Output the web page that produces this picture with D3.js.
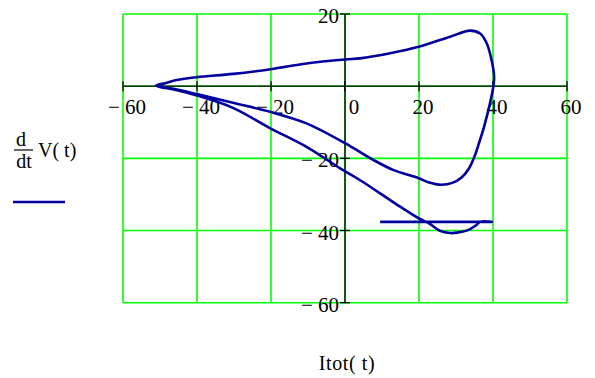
<!DOCTYPE html>
<html>
<head>
<meta charset="utf-8">
<script src="https://cdn.jsdelivr.net/npm/d3@7"></script>
<style>
  body { margin: 0; background: #fff; }
  svg { display: block; }
</style>
</head>
<body>
<div id="chart"></div>
<script>
// Ticks on both axes
const xTicks = [-60, -40, -20, 0, 20, 40, 60];
const yTicks = [-60, -40, -20, 0, 20];

// Itot(t) and d/dt V(t) (transient first, then one loop)
const itot = [9.5, 39.7, 36.5, 35.6, 33.8, 31.9, 28.4, 25.5, 23, 19.9, 14.9, 9.5, 4, -1.4,
  -10.4, -20.3, -30.3, -40, -46, -50, -51, -48.6, -45.5, -40, -30.2, -20.1, -10.4, 0, 4,
  12.2, 19.9, 28.4, 33.8, 36.5, 38.3, 39.6, 40.3, 40.1, 39.2, 37.6, 36.3, 35, 33.5, 31.5,
  29, 26, 22.5, 19.9, 13, 7.6, 2.2, 0, -10.4, -20.3, -30.3, -40, -46, -50, -51];
const dVdt = [-37.6, -37.6, -37.6, -38.4, -39.6, -40.3, -40.7, -40, -38.2, -36.6, -33.4, -29.7, -26, -22.7,
  -16.8, -11.6, -6, -2.6, -1, -0.2, 0.2, 0.8, 1.7, 2.5, 3.4, 4.7, 6.3, 7.4, 7.7,
  9.1, 10.9, 13.7, 15.4, 14.6, 11.9, 7.3, 2.6, 0, -4.7, -11.2, -15.5, -19.5, -22.8, -25.3,
  -26.8, -27.3, -26.6, -25.5, -23.2, -20.4, -17.1, -15.8, -10.3, -7.1, -4.6, -2.2, -0.8, -0.1, 0.1];

const width = 595, height = 378;
const numFont = "'Liberation Serif', 'Times New Roman', serif";

const svg = d3.select("#chart")
    .append("svg")
    .attr("width", width)
    .attr("height", height);

const x = d3.scaleLinear().domain([-60, 60]).range([123, 567]);
const y = d3.scaleLinear().domain([-60, 20]).range([302.7, 14]);

// green grid
svg.append("g").selectAll("line")
    .data(xTicks)
    .enter().append("line")
    .attr("x1", d => x(d)).attr("x2", d => x(d))
    .attr("y1", y(20)).attr("y2", y(-60))
    .attr("stroke", "#00ff00").attr("stroke-width", 1.6);

svg.append("g").selectAll("line")
    .data(yTicks)
    .enter().append("line")
    .attr("x1", x(-60)).attr("x2", x(60))
    .attr("y1", d => y(d)).attr("y2", d => y(d))
    .attr("stroke", "#00ff00").attr("stroke-width", 1.6);

// black axes through the origin
const axes = svg.append("g").attr("stroke", "#000").attr("stroke-width", 1.3);
axes.append("line")
    .attr("x1", x(-60)).attr("x2", x(60))
    .attr("y1", y(0)).attr("y2", y(0));
axes.append("line")
    .attr("x1", x(0)).attr("x2", x(0))
    .attr("y1", y(20)).attr("y2", y(-60));

axes.selectAll(".xt")
    .data(xTicks)
    .enter().append("line")
    .attr("x1", d => x(d)).attr("x2", d => x(d))
    .attr("y1", y(0) - 5).attr("y2", y(0) + 5);

axes.selectAll(".yt")
    .data(yTicks.filter(d => d !== 0))
    .enter().append("line")
    .attr("x1", x(0) - 5).attr("x2", x(0) + 5)
    .attr("y1", d => y(d)).attr("y2", d => y(d));

const fmt = d => d < 0 ? "\u2212 " + Math.abs(d) : String(d);

// tick labels
svg.append("g").selectAll("text")
    .data(xTicks)
    .enter().append("text")
    .attr("x", d => x(d) + (d === 0 ? 9 : 4))
    .attr("y", y(0) + 28)
    .attr("text-anchor", "middle")
    .style("font-family", numFont)
    .style("font-size", "21px")
    .text(fmt);

svg.append("g").selectAll("text")
    .data(yTicks.filter(d => d !== 0))
    .enter().append("text")
    .attr("x", x(0) - 6)
    .attr("y", d => y(d) + 9)
    .attr("text-anchor", "end")
    .style("font-family", numFont)
    .style("font-size", "21px")
    .text(fmt);

// the trace
const pts = itot.map((v, i) => [v, dVdt[i]]);
const line = d3.line()
    .x(d => x(d[0]))
    .y(d => y(d[1]))
    .curve(d3.curveCatmullRom.alpha(0.5));

svg.append("path")
    .datum(pts)
    .attr("d", line)
    .attr("fill", "none")
    .attr("stroke", "#0000a0")
    .attr("stroke-width", 2.6)
    .attr("stroke-linejoin", "round");

// y label: d/dt V(t) with legend line
const yl = svg.append("g")
    .style("font-family", numFont)
    .style("font-size", "20px")
    .attr("fill", "#000");
yl.append("text").attr("x", 21).attr("y", 146).attr("text-anchor", "middle").text("d");
yl.append("line").attr("x1", 14).attr("x2", 33).attr("y1", 150).attr("y2", 150)
    .attr("stroke", "#000").attr("stroke-width", 1.2);
yl.append("text").attr("x", 24).attr("y", 168).attr("text-anchor", "middle").text("dt");
yl.append("text").attr("x", 38).attr("y", 157).text("V( t)");
svg.append("line")
    .attr("x1", 13).attr("x2", 65).attr("y1", 202).attr("y2", 202)
    .attr("stroke", "#0000a0").attr("stroke-width", 2.6);

// x label
svg.append("text")
    .attr("x", 347).attr("y", 370)
    .attr("text-anchor", "middle")
    .style("font-family", numFont)
    .style("font-size", "20px")
    .style("letter-spacing", "0.6px")
    .text("Itot( t)");
</script>
</body>
</html>
